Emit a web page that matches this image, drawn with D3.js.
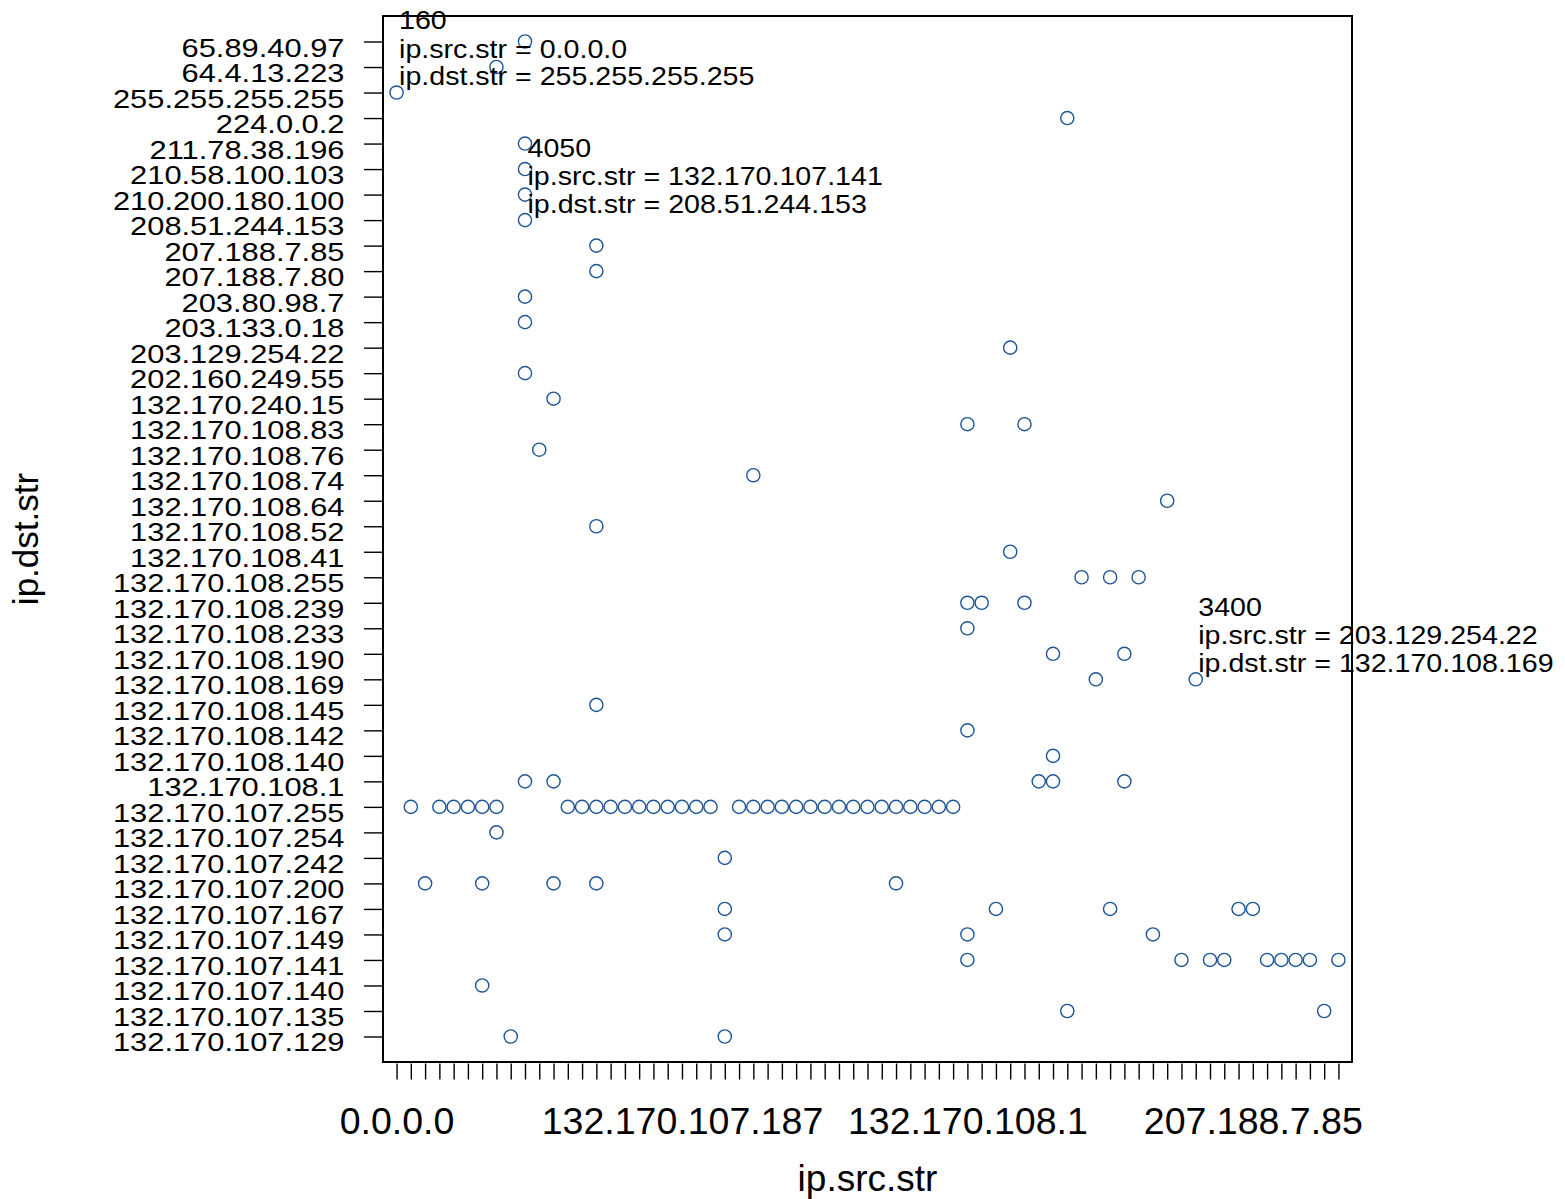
<!DOCTYPE html>
<html>
<head>
<meta charset="utf-8">
<script src="https://cdn.jsdelivr.net/npm/d3@7"></script>
<style>
  body { margin: 0; background: #fff; }
  text { font-family: "Liberation Sans", Arial, Helvetica, sans-serif; fill: #000; }
</style>
</head>
<body>
<div class="vis-dotplot"></div>
<script>
// source hosts, in the (string) order of the x axis
const srcHosts = [
  "0.0.0.0", "132.170.107.1", "132.170.107.10", "132.170.107.100", "132.170.107.11",
  "132.170.107.12", "132.170.107.120", "132.170.107.129", "132.170.107.135", "132.170.107.141",
  "132.170.107.149", "132.170.107.15", "132.170.107.150", "132.170.107.152", "132.170.107.167",
  "132.170.107.17", "132.170.107.170", "132.170.107.175", "132.170.107.18", "132.170.107.180",
  "132.170.107.187", "132.170.107.19", "132.170.107.190", "132.170.107.200", "132.170.107.21",
  "132.170.107.210", "132.170.107.22", "132.170.107.220", "132.170.107.23", "132.170.107.230",
  "132.170.107.24", "132.170.107.240", "132.170.107.242", "132.170.107.25", "132.170.107.26",
  "132.170.107.30", "132.170.107.35", "132.170.107.40", "132.170.107.50", "132.170.107.60",
  "132.170.108.1", "132.170.108.140", "132.170.108.142", "132.170.108.145", "132.170.108.169",
  "132.170.108.190", "132.170.108.233", "132.170.108.239", "132.170.108.255", "132.170.108.41",
  "132.170.108.52", "132.170.108.64", "132.170.108.74", "132.170.108.83", "132.170.240.15",
  "202.160.249.55", "203.129.254.22", "203.133.0.18", "203.80.98.7", "207.188.7.80",
  "207.188.7.85", "208.51.244.153", "210.200.180.100", "210.58.100.103", "211.78.38.196",
  "224.0.0.2", "64.4.13.223"
];

// destination hosts, bottom to top
const dstHosts = [
  "132.170.107.129", "132.170.107.135", "132.170.107.140", "132.170.107.141", "132.170.107.149",
  "132.170.107.167", "132.170.107.200", "132.170.107.242", "132.170.107.254", "132.170.107.255",
  "132.170.108.1", "132.170.108.140", "132.170.108.142", "132.170.108.145", "132.170.108.169",
  "132.170.108.190", "132.170.108.233", "132.170.108.239", "132.170.108.255", "132.170.108.41",
  "132.170.108.52", "132.170.108.64", "132.170.108.74", "132.170.108.76", "132.170.108.83",
  "132.170.240.15", "202.160.249.55", "203.129.254.22", "203.133.0.18", "203.80.98.7",
  "207.188.7.80", "207.188.7.85", "208.51.244.153", "210.200.180.100", "210.58.100.103",
  "211.78.38.196", "224.0.0.2", "255.255.255.255", "64.4.13.223", "65.89.40.97"
];

const xTickLabels = ["0.0.0.0", "132.170.107.187", "132.170.108.1", "207.188.7.85"];

// sources seen for each destination (same order as dstHosts)
const flowSrc = [
  ["132.170.107.135", "132.170.107.200"],
  ["132.170.108.239", "224.0.0.2"],
  ["132.170.107.120"],
  ["132.170.108.1", "202.160.249.55", "203.133.0.18", "203.80.98.7", "208.51.244.153",
   "210.200.180.100", "210.58.100.103", "211.78.38.196", "64.4.13.223"],
  ["132.170.107.200", "132.170.108.1", "132.170.108.83"],
  ["132.170.107.200", "132.170.108.142", "132.170.108.52", "207.188.7.80", "207.188.7.85"],
  ["132.170.107.10", "132.170.107.120", "132.170.107.15", "132.170.107.167", "132.170.107.30"],
  ["132.170.107.200"],
  ["132.170.107.129"],
  ["132.170.107.1", "132.170.107.100", "132.170.107.11", "132.170.107.12", "132.170.107.120",
   "132.170.107.129", "132.170.107.150", "132.170.107.152", "132.170.107.167", "132.170.107.17",
   "132.170.107.170", "132.170.107.175", "132.170.107.18", "132.170.107.180", "132.170.107.187",
   "132.170.107.19", "132.170.107.190", "132.170.107.21", "132.170.107.210", "132.170.107.22",
   "132.170.107.220", "132.170.107.23", "132.170.107.230", "132.170.107.24", "132.170.107.240",
   "132.170.107.242", "132.170.107.25", "132.170.107.26", "132.170.107.30", "132.170.107.35",
   "132.170.107.40", "132.170.107.50", "132.170.107.60"],
  ["132.170.107.141", "132.170.107.15", "132.170.108.190", "132.170.108.233", "132.170.108.64"],
  ["132.170.108.233"],
  ["132.170.108.1"],
  ["132.170.107.167"],
  ["132.170.108.41", "203.129.254.22"],
  ["132.170.108.233", "132.170.108.64"],
  ["132.170.108.1"],
  ["132.170.108.1", "132.170.108.140", "132.170.108.169"],
  ["132.170.108.255", "132.170.108.52", "132.170.108.74"],
  ["132.170.108.145"],
  ["132.170.107.167"],
  ["132.170.240.15"],
  ["132.170.107.210"],
  ["132.170.107.149"],
  ["132.170.108.1", "132.170.108.169"],
  ["132.170.107.15"],
  ["132.170.107.141"],
  ["132.170.108.145"],
  ["132.170.107.141"],
  ["132.170.107.141"],
  ["132.170.107.167"],
  ["132.170.107.167"],
  ["132.170.107.141"],
  ["132.170.107.141"],
  ["132.170.107.141"],
  ["132.170.107.141"],
  ["132.170.108.239"],
  ["0.0.0.0"],
  ["132.170.107.129"],
  ["132.170.107.141"]
];

// labelled points
const noteCount = [160, 4050, 3400];
const noteSrc = ["0.0.0.0", "132.170.107.141", "203.129.254.22"];
const noteDst = ["255.255.255.255", "208.51.244.153", "132.170.108.169"];

const W = 1565, H = 1199;
const panel = { left: 383, right: 1352, top: 16, bottom: 1062 };

const svg = d3.select(".vis-dotplot")
  .append("svg")
  .attr("width", W)
  .attr("height", H);

let x = d3.scalePoint()
  .domain(srcHosts)
  .range([panel.left, panel.right])
  .padding(0.95);

let y = d3.scalePoint()
  .domain(dstHosts)
  .range([panel.bottom, panel.top])
  .padding(1);

// y axis
let yAxis = svg.append("g")
  .attr("transform", "translate(" + panel.left + ",0)")
  .call(d3.axisLeft(y).tickSize(19).tickSizeOuter(0));
yAxis.select(".domain").remove();
yAxis.selectAll("line").attr("stroke", "#000").attr("stroke-width", 1.4);
yAxis.selectAll("text")
  .attr("x", null).attr("dy", null)
  .attr("transform", "translate(-38.5,14.5) scale(1.21,1)")
  .style("font-size", "25.5px")
  .style("font-family", "'Liberation Sans', Arial, sans-serif")
  .style("text-anchor", "end");

// x axis
let xAxis = svg.append("g")
  .attr("transform", "translate(0," + (panel.bottom + 1.5) + ")")
  .call(d3.axisBottom(x).tickSize(16).tickSizeOuter(0)
    .tickFormat(d => xTickLabels.includes(d) ? d : ""));
xAxis.select(".domain").remove();
xAxis.selectAll("line").attr("stroke", "#000").attr("stroke-width", 1.4);
xAxis.selectAll("text")
  .attr("y", 70.5).attr("dy", null)
  .style("font-size", "37.5px")
  .style("font-family", "'Liberation Sans', Arial, sans-serif");

// axis titles
svg.append("text")
  .attr("x", (panel.left + panel.right) / 2)
  .attr("y", 1191)
  .style("text-anchor", "middle")
  .style("font-size", "37px")
  .text("ip.src.str");

svg.append("text")
  .attr("transform", "translate(38," + (panel.top + panel.bottom) / 2 + ") rotate(-90)")
  .style("text-anchor", "middle")
  .style("font-size", "35px")
  .text("ip.dst.str");

// points
let points = [];
dstHosts.forEach(function (d, i) {
  flowSrc[i].forEach(function (s) {
    points.push({ src: s, dst: d });
  });
});

svg.append("g")
  .selectAll("circle")
  .data(points)
  .enter()
  .append("circle")
  .attr("cx", d => x(d.src))
  .attr("cy", d => y(d.dst))
  .attr("r", 6.6)
  .attr("fill", "none")
  .attr("stroke", "#1d5597")
  .attr("stroke-width", 1.4);

// labels for selected points
let notes = svg.append("g")
  .selectAll("g")
  .data(noteCount.map((c, i) => ({ count: c, src: noteSrc[i], dst: noteDst[i] })))
  .enter()
  .append("g")
  .attr("transform", d => "translate(" + (x(d.src) + 2.5) + "," + y(d.dst) + ")");

notes.each(function (d) {
  let lines = [String(d.count), "ip.src.str = " + d.src, "ip.dst.str = " + d.dst];
  let offs = [-63.5, -35, -7.5];
  lines.forEach(function (t, k) {
    d3.select(this).append("text")
      .attr("transform", "translate(0," + offs[k] + ") scale(1.1,1)")
      .style("font-size", "26px")
      .text(t);
  }, this);
});

// panel border on top
svg.append("rect")
  .attr("x", panel.left)
  .attr("y", panel.top)
  .attr("width", panel.right - panel.left)
  .attr("height", panel.bottom - panel.top)
  .attr("fill", "none")
  .attr("stroke", "#000")
  .attr("stroke-width", 2);
</script>
</body>
</html>
